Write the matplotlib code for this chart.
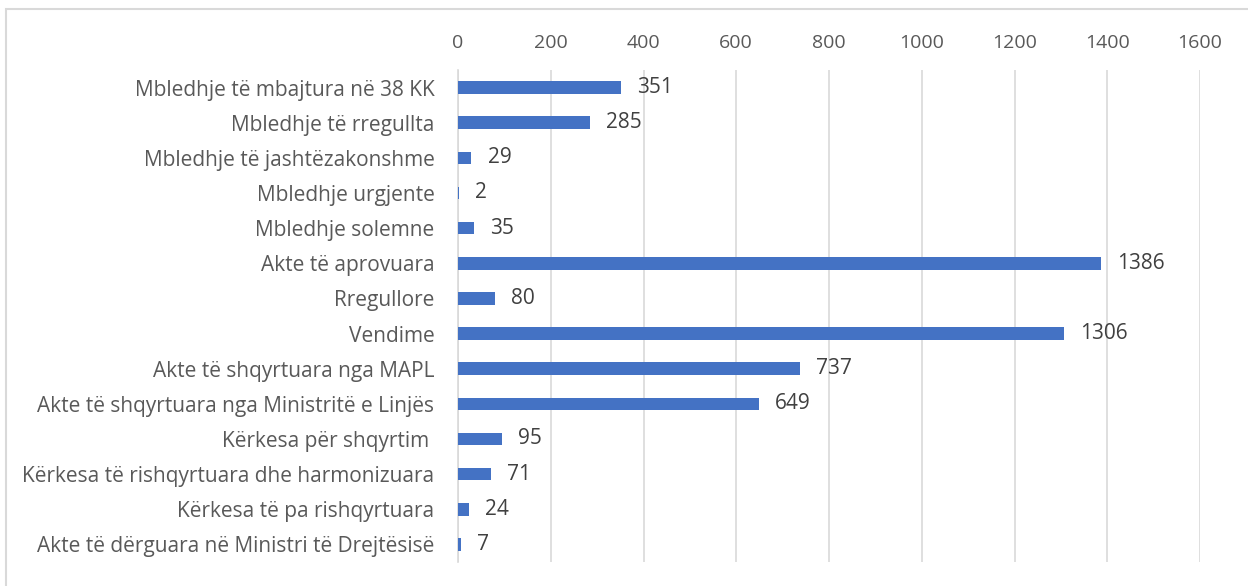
import matplotlib.pyplot as plt
from matplotlib.patches import Rectangle

# ----------------------------------
# DATA
# ----------------------------------

categories = [
    "Mbledhje të mbajtura në 38 KK",
    "Mbledhje të rregullta",
    "Mbledhje të jashtëzakonshme",
    "Mbledhje urgjente",
    "Mbledhje solemne",
    "Akte të aprovuara",
    "Rregullore",
    "Vendime",
    "Akte të shqyrtuara nga MAPL",
    "Akte të shqyrtuara nga Ministritë e Linjës",
    "Kërkesa për shqyrtim ",
    "Kërkesa të rishqyrtuara dhe harmonizuara",
    "Kërkesa të pa rishqyrtuara",
    "Akte të dërguara në Ministri të Drejtësisë",
]

values = [351, 285, 29, 2, 35, 1386, 80, 1306, 737, 649, 95, 71, 24, 7]

x_ticks = [0, 200, 400, 600, 800, 1000, 1200, 1400, 1600]

# ----------------------------------
# PLOT
# ----------------------------------

plt.rcParams["font.family"] = ["Open Sans", "DejaVu Sans"]

fig = plt.figure(figsize=(12.48, 5.86), dpi=100)

# outer chart frame
fig.patches.append(
    Rectangle(
        (6 / 1248, -0.1), 1.2, 1 - 9 / 586 + 0.1,
        transform=fig.transFigure,
        fill=False,
        edgecolor="#D9D9D9",
        linewidth=1.5
    )
)

ax = fig.add_axes([458 / 1248, 1 - 562 / 586, (1200 - 458) / 1248, (562 - 70) / 586])

pos = list(range(len(categories)))

ax.barh(pos, values, height=0.36, color="#4472C4", zorder=3)

for p, v in zip(pos, values):
    ax.text(
        v + 35, p, str(v),
        va="center", ha="left",
        fontsize=15, color="#404040"
    )

ax.set_ylim(len(categories) - 0.5, -0.5)
ax.set_xlim(0, 1600)
ax.set_yticks(pos)
ax.set_yticklabels(categories, fontsize=15, color="#595959")
ax.set_xticks(x_ticks)
ax.set_xticklabels([str(t) for t in x_ticks], fontsize=14, color="#595959")

ax.xaxis.tick_top()
ax.tick_params(axis="x", length=0, pad=13)
ax.tick_params(axis="y", length=0, pad=17)

ax.grid(axis="x", color="#D9D9D9", linewidth=1.2, zorder=0)

for side in ["top", "right", "bottom"]:
    ax.spines[side].set_visible(False)
ax.spines["left"].set_color("#D9D9D9")
ax.spines["left"].set_linewidth(1.2)

plt.savefig("out.png", dpi=100)
